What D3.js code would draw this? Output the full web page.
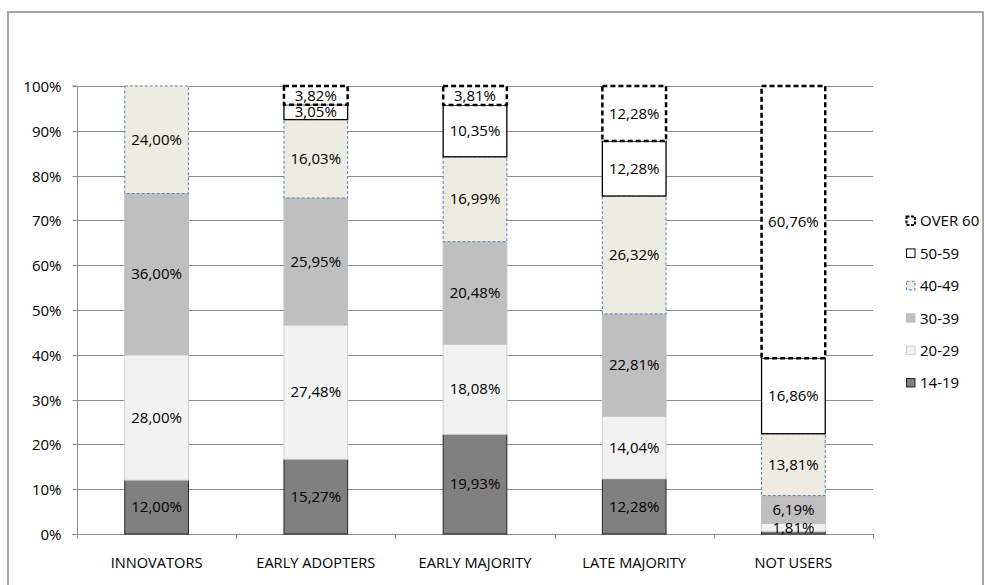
<!DOCTYPE html>
<html><head><meta charset="utf-8">
<script src="https://cdn.jsdelivr.net/npm/d3@7"></script>
<style>body{margin:0;background:#fff}svg{display:block}text{font-family:"Open Sans","Liberation Sans",sans-serif}</style>
</head><body><svg id="c" width="984" height="585"></svg>
<script>
const categories = ["INNOVATORS","EARLY ADOPTERS","EARLY MAJORITY","LATE MAJORITY","NOT USERS"];
const seriesNames = ["14-19","20-29","30-39","40-49","50-59","OVER 60"];
const s1419 = [12.00,15.27,19.93,12.28,0.57];
const s2029 = [28.00,27.48,18.08,14.04,1.81];
const s3039 = [36.00,25.95,20.48,22.81,6.19];
const s4049 = [24.00,16.03,16.99,26.32,13.81];
const s5059 = [0,3.05,10.35,12.28,16.86];
const sOver60 = [0,3.82,3.81,12.28,60.76];
const yTicks = [0,0.1,0.2,0.3,0.4,0.5,0.6,0.7,0.8,0.9,1.0];

(function(){
const seriesVals = [s1419,s2029,s3039,s4049,s5059,sOver60];
const styles = [
  {fill:"#808080",stroke:"#262626",sw:1,dash:null},
  {fill:"#f2f2f2",stroke:"#d0d0d0",sw:1,dash:null},
  {fill:"#bfbfbf",stroke:"#bfbfbf",sw:1,dash:null},
  {fill:"#eeece1",stroke:"#4f81bd",sw:1,dash:"3,2"},
  {fill:"#ffffff",stroke:"#000000",sw:1.3,dash:null},
  {fill:"#ffffff",stroke:"#000000",sw:2.5,dash:"5,3"}
];
const rows = categories.map((c,i)=>{const r={cat:c};seriesNames.forEach((s,j)=>r[s]=seriesVals[j][i]);return r;});
const stack = d3.stack().keys(seriesNames).offset(d3.stackOffsetExpand);
const layers = stack(rows);

const svg = d3.select("#c");
const L=77,R=873,T=86,B=534;
const FS=15;
const x = d3.scaleBand().domain(categories).range([L,R]).paddingInner(0.6).paddingOuter(0.3);
const y = d3.scaleLinear().domain([0,1]).range([B,T]);

svg.append("rect").attr("x",8).attr("y",12).attr("width",975).attr("height",600)
  .attr("fill","none").attr("stroke","#a6a6a6").attr("stroke-width",2);

svg.append("g").selectAll("line").data(yTicks.slice(1)).join("line")
  .attr("x1",L).attr("x2",R).attr("y1",d=>Math.round(y(d))+0.5).attr("y2",d=>Math.round(y(d))+0.5)
  .attr("stroke","#8c8c8c").attr("stroke-width",1);

const ya = svg.append("g").attr("transform",`translate(${L+0.5},0)`)
  .call(d3.axisLeft(y).tickValues(yTicks).tickFormat(d3.format(".0%")).tickSize(5).tickPadding(11));
ya.select(".domain").attr("stroke","#8c8c8c").attr("d",`M-5,${T}H0V${B+4}`);
ya.selectAll(".tick line").attr("stroke","#8c8c8c");
ya.selectAll(".tick").attr("transform",d=>`translate(0,${Math.round(y(d))+0.5})`);
ya.selectAll("text").attr("font-size",FS).attr("fill","#000").attr("dy",null).attr("y",5.2)
  .attr("font-family","'Open Sans',sans-serif");

const step = (R-L)/categories.length;
const xa = svg.append("g");
xa.append("line").attr("x1",L-5).attr("x2",R).attr("y1",B+0.5).attr("y2",B+0.5).attr("stroke","#8c8c8c");
xa.selectAll(".xt").data(d3.range(categories.length+1)).join("line")
  .attr("x1",i=>Math.round(L+i*step)+0.5).attr("x2",i=>Math.round(L+i*step)+0.5)
  .attr("y1",B).attr("y2",B+5).attr("stroke","#8c8c8c");
xa.selectAll("text").data(categories).join("text")
  .attr("x",d=>x(d)+x.bandwidth()/2).attr("y",568).attr("text-anchor","middle")
  .attr("font-size",14.6).attr("fill","#000").text(d=>d);

const fmt = v => v.toFixed(2).replace(".",",")+"%";
layers.forEach((layer,j)=>{
  const st = styles[j];
  svg.append("g").selectAll("rect").data(layer.filter(d=>d[1]-d[0]>0)).join("rect")
    .attr("x",d=>x(d.data.cat)).attr("width",x.bandwidth())
    .attr("y",d=>y(d[1])).attr("height",d=>y(d[0])-y(d[1]))
    .attr("fill",st.fill).attr("stroke",st.stroke).attr("stroke-width",st.sw)
    .attr("stroke-dasharray",st.dash);
});
layers.forEach((layer,j)=>{
  svg.append("g").selectAll("text").data(layer.filter(d=>d.data[seriesNames[j]]>=1)).join("text")
    .attr("x",d=>x(d.data.cat)+x.bandwidth()/2)
    .attr("y",d=>(y(d[0])+y(d[1]))/2+5.2)
    .attr("text-anchor","middle").attr("font-size",FS).attr("fill","#000")
    .text(d=>fmt(d.data[seriesNames[j]]));
});

const lg = svg.append("g");
const order = seriesNames.slice().reverse();
order.forEach((s,i)=>{
  const j = seriesNames.indexOf(s);
  const st = styles[j];
  const yy = 221 + i*32.4;
  lg.append("rect").attr("x",906.5).attr("y",yy-4.5).attr("width",8.5).attr("height",8.5)
    .attr("fill",st.fill).attr("stroke",j===2?"#bfbfbf":st.stroke)
    .attr("stroke-width",j===5?2:1).attr("stroke-dasharray",j===5?"3,1.5":st.dash);
  lg.append("text").attr("x",920).attr("y",yy+5.3).attr("font-size",15).attr("fill","#000").text(s);
});
})();
</script></body></html>
